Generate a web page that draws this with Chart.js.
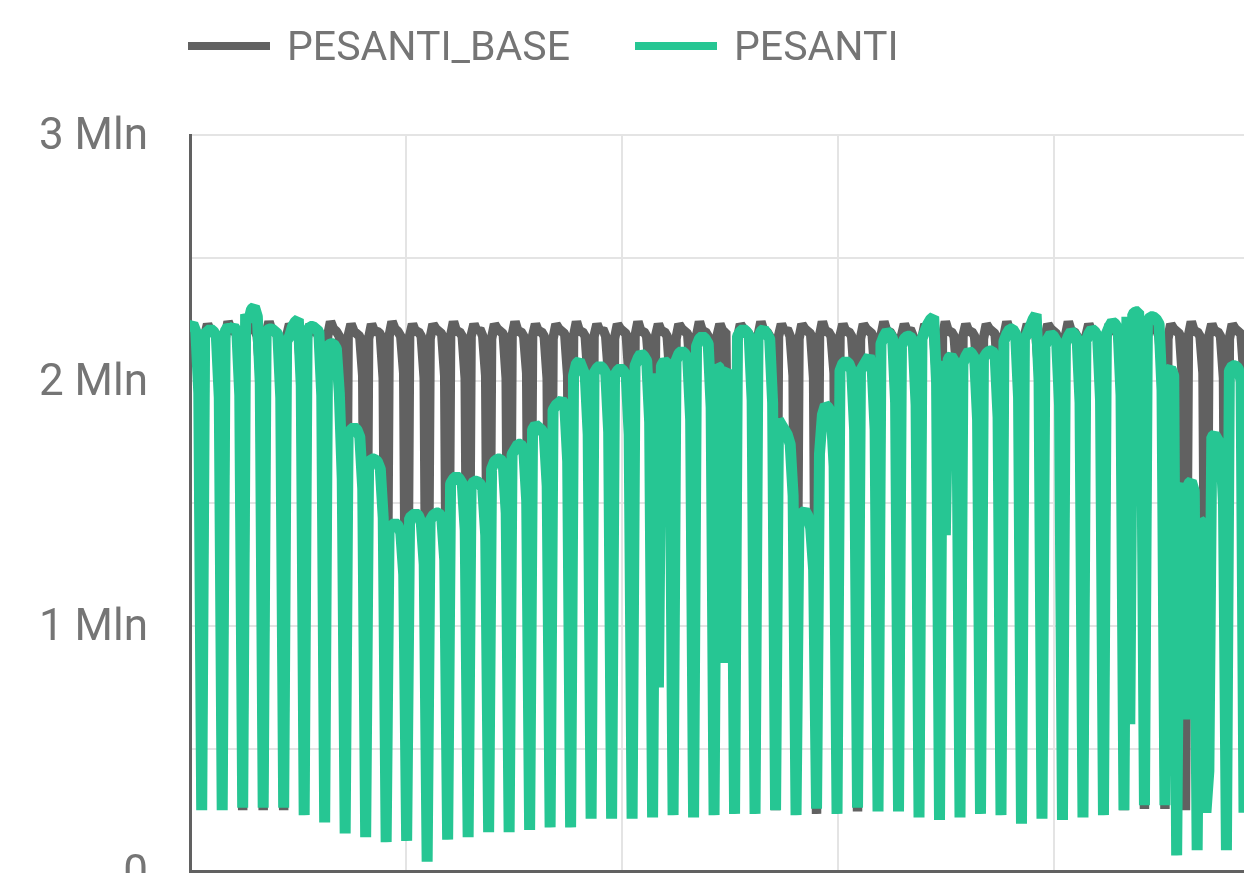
<!DOCTYPE html>
<html>
<head>
<meta charset="utf-8">
<title>PESANTI vs PESANTI_BASE</title>
<script src="https://cdn.jsdelivr.net/npm/chart.js@4.4.1/dist/chart.umd.min.js"></script>
<style>
  body { margin:0; overflow:hidden; background:#fff; font-family:Roboto, sans-serif; }
  #wrap { position:relative; width:1244px; height:940px; }
  .lg-item { position:absolute; top:26px; display:flex; align-items:center; white-space:nowrap;
             font-size:41px; line-height:41px; color:#757575; }
  .lg-line { width:82px; height:8px; margin-right:17px; margin-top:-2px; }
</style>
</head>
<body>
<div id="wrap">
  <canvas id="traffic-chart"></canvas>
  <div id="legend"></div>
</div>
<script>
/* ---- Data (millions of vehicles per day) ----
   first row starts on a Wednesday and ends on Sunday,
   then one row per week Mon..Sun, last row Mon..Sat */
const pesantiBase = [
  2.20, 2.20, 2.19, 2.02, 0.255,
  2.18, 2.23, 2.20, 2.20, 2.18, 2.01, 0.255,
  2.17, 2.24, 2.21, 2.20, 2.19, 2.02, 0.25,
  2.18, 2.23, 2.20, 2.21, 2.18, 2.01, 0.25,
  2.19, 2.24, 2.20, 2.20, 2.18, 2.03, 0.25,
  2.18, 2.23, 2.21, 2.20, 2.19, 2.01, 0.25,
  2.17, 2.23, 2.20, 2.20, 2.18, 2.02, 0.25,
  2.18, 2.24, 2.21, 2.20, 2.18, 2.01, 0.25,
  2.18, 2.23, 2.20, 2.19, 2.18, 2.02, 0.25,
  2.17, 2.23, 2.20, 2.20, 2.19, 2.01, 0.25,
  2.18, 2.24, 2.21, 2.20, 2.18, 2.03, 0.25,
  2.18, 2.23, 2.20, 2.20, 2.18, 2.01, 0.25,
  2.17, 2.23, 2.21, 2.20, 2.19, 2.02, 0.25,
  2.18, 2.24, 2.20, 2.20, 2.18, 2.01, 0.25,
  2.18, 2.23, 2.20, 2.21, 2.18, 2.02, 0.25,
  2.17, 2.23, 2.21, 2.20, 2.19, 2.01, 0.25,
  2.18, 2.24, 2.20, 2.20, 2.18, 2.03, 0.25,
  2.18, 2.23, 2.20, 2.20, 2.18, 2.01, 0.25,
  2.17, 2.23, 2.21, 2.20, 2.19, 2.02, 0.25,
  2.18, 2.24, 2.20, 2.20, 2.18, 2.01, 0.25,
  2.18, 2.23, 2.20, 2.21, 2.18, 2.02, 0.25,
  2.17, 2.23, 2.21, 2.20, 2.19, 2.01, 0.25,
  2.18, 2.24, 2.20, 2.20, 2.18, 2.03, 0.25,
  2.18, 2.23, 2.20, 2.20, 2.18, 2.01, 0.25,
  2.17, 2.23, 2.21, 2.20, 2.19, 2.02, 0.25,
  2.18, 2.24, 2.20, 2.20, 2.18, 2.01, 0.25,
  2.18, 2.23, 2.20, 2.20, 1.00, 2.00, 0.25,
  2.17, 2.23, 2.21, 2.20, 2.19, 2.02, 0.25,
  2.18, 2.24, 2.20, 2.20, 2.18, 2.01, 0.25,
  2.18, 2.23, 2.20, 2.21, 2.18, 2.02, 0.25,
  2.17, 2.23, 2.21, 2.20, 2.19, 2.01, 0.235,
  2.18, 2.24, 2.20, 2.20, 2.18, 2.03, 0.25,
  2.18, 2.23, 2.20, 2.20, 2.18, 2.01, 0.245,
  2.17, 2.23, 2.21, 2.20, 2.19, 2.02, 0.25,
  2.18, 2.24, 2.20, 2.20, 2.18, 2.01, 0.25,
  2.18, 2.23, 2.20, 2.21, 2.18, 2.02, 0.25,
  2.17, 2.23, 2.21, 2.20, 2.19, 2.01, 0.25,
  2.18, 2.24, 2.20, 2.20, 2.18, 2.03, 0.25,
  2.18, 2.23, 2.20, 2.20, 2.18, 2.01, 0.25,
  2.17, 2.23, 2.21, 2.20, 2.19, 2.02, 0.25,
  2.18, 2.24, 2.20, 2.20, 2.18, 2.01, 0.25,
  2.18, 2.23, 2.20, 2.21, 2.18, 2.02, 0.25,
  2.17, 2.23, 2.21, 2.20, 2.19, 2.01, 0.25,
  2.18, 2.24, 2.20, 2.20, 2.18, 2.03, 0.25,
  2.18, 2.23, 2.20, 2.20, 2.18, 2.01, 0.25,
  2.17, 2.23, 2.21, 2.20, 2.19, 2.02, 0.25,
  2.18, 2.24, 2.20, 2.20, 2.18, 2.01, 0.255,
  2.18, 2.23, 2.20, 2.21, 2.18, 2.02, 0.255,
  2.17, 2.23, 2.21, 2.20, 2.19, 2.01, 0.25,
  2.18, 2.24, 2.20, 2.20, 2.18, 2.03, 0.25,
  2.18, 2.23, 2.20, 2.20, 2.18, 2.01, 0.25,
  2.17, 2.23, 2.21, 2.20, 2.19, 2.02
];

const pesanti = [
  2.22, 2.23, 2.20, 1.95, 0.25,
  2.19, 2.20, 2.21, 2.20, 2.18, 1.93, 0.25,
  2.20, 2.22, 2.21, 2.22, 2.20, 1.94, 0.26,
  2.27, 2.24, 2.29, 2.30, 2.26, 1.99, 0.26,
  2.20, 2.21, 2.21, 2.20, 2.19, 1.93, 0.26,
  2.16, 2.18, 2.22, 2.24, 2.25, 1.98, 0.23,
  2.20, 2.22, 2.22, 2.21, 2.20, 1.94, 0.20,
  2.14, 2.15, 2.15, 2.13, 1.95, 1.60, 0.155,
  1.78, 1.80, 1.81, 1.80, 1.77, 1.56, 0.14,
  1.66, 1.68, 1.68, 1.67, 1.64, 1.44, 0.12,
  1.40, 1.41, 1.42, 1.41, 1.38, 1.21, 0.125,
  1.44, 1.45, 1.46, 1.45, 1.42, 1.25, 0.04,
  1.43, 1.45, 1.46, 1.46, 1.44, 1.27, 0.13,
  1.58, 1.60, 1.61, 1.60, 1.58, 1.39, 0.14,
  1.57, 1.59, 1.59, 1.58, 1.56, 1.37, 0.16,
  1.64, 1.67, 1.68, 1.68, 1.66, 1.46, 0.16,
  1.70, 1.72, 1.74, 1.74, 1.72, 1.51, 0.17,
  1.80, 1.82, 1.81, 1.80, 1.78, 1.57, 0.18,
  1.88, 1.90, 1.91, 1.92, 1.90, 1.67, 0.18,
  2.02, 2.07, 2.08, 2.05, 2.02, 1.78, 0.215,
  2.03, 2.05, 2.06, 2.05, 2.03, 1.79, 0.215,
  2.02, 2.04, 2.05, 2.04, 2.02, 1.78, 0.215,
  2.06, 2.09, 2.11, 2.10, 2.08, 1.83, 0.22,
  2.03, 0.75, 2.06, 2.08, 2.07, 1.82, 0.23,
  2.08, 2.11, 2.12, 2.11, 2.09, 1.84, 0.22,
  2.14, 2.17, 2.18, 2.17, 2.15, 1.89, 0.23,
  2.06, 2.05, 0.85, 2.03, 2.04, 1.80, 0.235,
  2.18, 2.20, 2.21, 2.20, 2.18, 1.92, 0.235,
  2.17, 2.20, 2.21, 2.19, 2.17, 1.91, 0.25,
  1.84, 1.82, 1.80, 1.78, 1.74, 1.53, 0.23,
  1.45, 1.46, 1.47, 1.45, 1.40, 1.23, 0.256,
  1.70, 1.86, 1.90, 1.89, 1.87, 1.65, 0.235,
  2.04, 2.07, 2.08, 2.07, 2.04, 1.80, 0.26,
  2.04, 2.06, 2.08, 2.10, 2.05, 1.80, 0.245,
  2.15, 2.18, 2.20, 2.19, 2.17, 1.91, 0.245,
  2.14, 2.17, 2.18, 2.18, 2.16, 1.90, 0.22,
  2.17, 2.20, 2.23, 2.25, 2.26, 1.99, 0.21,
  2.08, 1.37, 2.09, 2.10, 2.08, 1.83, 0.22,
  2.07, 2.10, 2.12, 2.11, 2.09, 1.84, 0.235,
  2.09, 2.11, 2.12, 2.12, 2.10, 1.85, 0.23,
  2.16, 2.19, 2.21, 2.21, 2.19, 1.93, 0.195,
  2.17, 2.19, 2.22, 2.25, 2.27, 2.00, 0.215,
  2.14, 2.17, 2.19, 2.18, 2.16, 1.90, 0.21,
  2.15, 2.18, 2.20, 2.19, 2.17, 1.91, 0.22,
  2.16, 2.19, 2.21, 2.20, 2.18, 1.92, 0.23,
  2.19, 2.22, 2.24, 2.23, 2.21, 1.94, 0.25,
  2.26, 0.60, 2.27, 2.28, 2.28, 2.00, 0.27,
  2.24, 2.26, 2.26, 2.25, 2.23, 1.96, 0.27,
  2.04, 2.05, 2.02, 0.066, 1.55, 1.58, 0.62,
  1.58, 1.59, 1.55, 0.087, 1.43, 1.42, 0.24,
  0.41, 1.77, 1.78, 1.76, 1.74, 1.50, 0.087,
  2.04, 2.06, 2.06, 2.05, 2.00, 0.24
];

// y tick values (Mln) and where the vertical grid lines fall (day index)
const yTicks    = [0, 0.5, 1, 1.5, 2, 2.5, 3];
const xGridDays = [0, 73.78, 147.55, 221.33, 295.1];

const GREY  = '#616161';
const GREEN = '#26c693';

const dayIndex = pesanti.map((_, i) => i);

const datasets = [
  { label:'PESANTI_BASE', data: pesantiBase, borderColor: GREY,  backgroundColor: GREY,  borderWidth: 9.5, order: 1 },
  { label:'PESANTI',      data: pesanti,     borderColor: GREEN, backgroundColor: GREEN, borderWidth: 11,  order: 0 },
];

/* ---- HTML legend ---- */
const legendLeft = [188, 635];
document.getElementById('legend').innerHTML = datasets.map((d, i) => `
  <div class="lg-item" style="left:${legendLeft[i]}px;">
    <div class="lg-line" style="background:${d.borderColor};"></div>${d.label}
  </div>`).join('');

/* ---- Chart ---- */
new Chart(document.getElementById('traffic-chart'), {
  type: 'line',
  data: { labels: dayIndex, datasets },
  options: {
    responsive: true, maintainAspectRatio: false, animation: false,
    layout: { padding: { top: 135, bottom: 67, left: 0, right: 0 } },
    elements: {
      point: { radius: 0 },
      line: { tension: 0, fill: false, borderJoinStyle: 'bevel' },
    },
    datasets: { line: { clip: 0 } },
    plugins: { legend: { display: false }, tooltip: { enabled: false } },
    scales: {
      x: {
        type: 'linear', min: 0, max: dayIndex.length - 1,
        ticks: { display: false },
        grid: { color: '#e4e4e4', lineWidth: 2, drawTicks: false },
        border: { display: true, color: GREY, width: 3 },
        afterBuildTicks: s => { s.ticks = xGridDays.map(v => ({ value: v })); },
      },
      y: {
        min: yTicks[0], max: yTicks[yTicks.length - 1],
        ticks: {
          stepSize: yTicks[1] - yTicks[0], padding: 42, labelOffset: 3, color: '#757575',
          font: { family: 'Roboto', size: 44 },
          callback: v => Number.isInteger(v) ? (v === 0 ? '0' : `${v} Mln`) : '',
        },
        grid: { color: '#e4e4e4', lineWidth: 2, drawTicks: false },
        border: { display: true, color: GREY, width: 3 },
        afterFit: s => { s.width = 190; },
      },
    },
  },
});
</script>
</body>
</html>
